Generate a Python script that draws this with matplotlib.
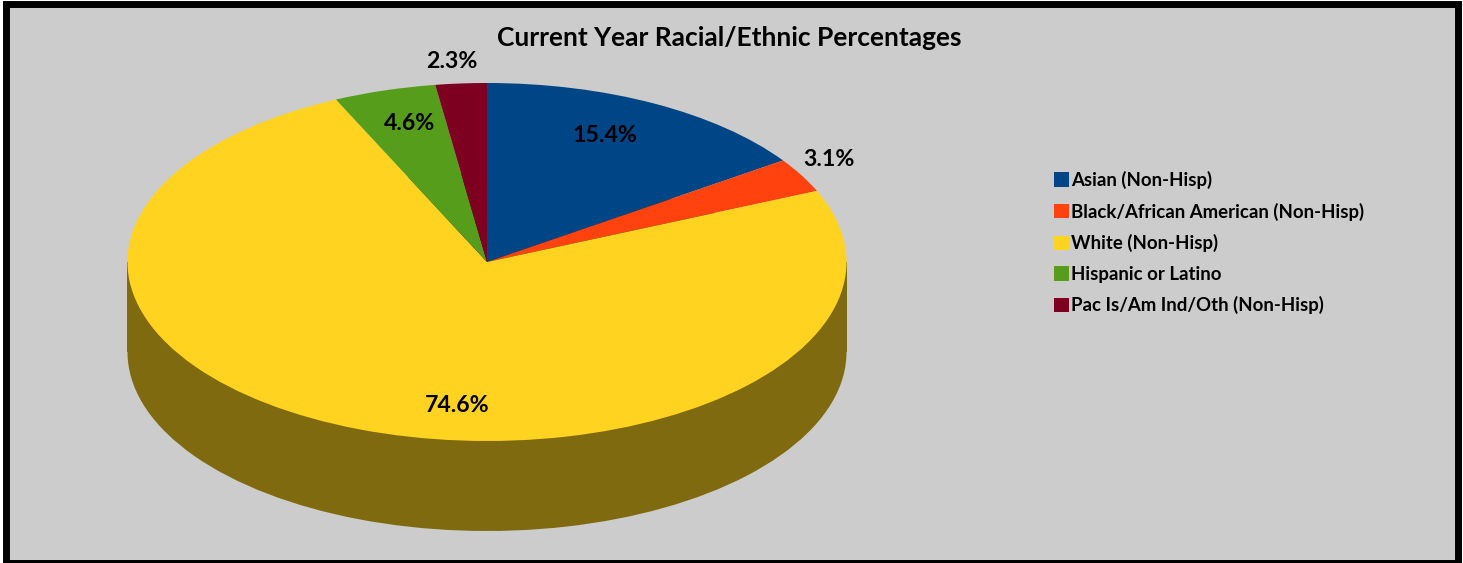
import matplotlib
matplotlib.use("Agg")
import matplotlib.pyplot as plt
from matplotlib.patches import Patch, Rectangle

W, H = 1463, 563

categories = ["Asian (Non-Hisp)", "Black/African American (Non-Hisp)", "White (Non-Hisp)",
              "Hispanic or Latino", "Pac Is/Am Ind/Oth (Non-Hisp)"]
percentages = [15.4, 3.1, 74.6, 4.6, 2.3]
colors = ["#004586", "#FF420E", "#FFD320", "#579D1C", "#7E0021"]
side_colors = ["#002343", "#802107", "#7F6A10", "#2C4F0E", "#3F0011"]
label_px = [(605, 135), (829, 160), (457, 406), (410, 123), (452, 61)]

# pie centre and radii of the tilted disc, in pixels
CX, CY, RX, RY, DEPTH = 487, 262, 359.5, 179, 90

plt.rcParams["font.family"] = ["Lato", "DejaVu Sans"]
plt.rcParams["font.weight"] = "bold"

fig = plt.figure(figsize=(W / 100, H / 100), dpi=100, facecolor="white")
ax = fig.add_axes([0, 0, 1, 1])

# side wall: same pie shifted down, with a band joining the two discs
low = -DEPTH / RY
ax.pie(percentages, colors=side_colors, startangle=90, counterclock=False, center=(0, low), radius=1,
       wedgeprops={"linewidth": 0})
ax.add_patch(Rectangle((-1, low), 2, -low, facecolor=side_colors[2], linewidth=0, zorder=1))

# top of the disc
wedges, _ = ax.pie(percentages, colors=colors, startangle=90, counterclock=False, radius=1,
                   wedgeprops={"linewidth": 0, "zorder": 3})

# pie() forces an equal aspect, the tilt comes from undoing that
ax.set_aspect("auto")
ax.set_xlim(-CX / RX, (W - CX) / RX)
ax.set_ylim((CY - H) / RY, CY / RY)
ax.set_frame_on(False)

fig.patches.append(Rectangle((5.5 / W, 1 - 562.5 / H), 1452 / W, 558.5 / H, transform=fig.transFigure,
                             facecolor="#CCCCCC", edgecolor="black", linewidth=5, zorder=-1))
ax.patch.set_visible(False)

fig.text(729 / W, 1 - 38 / H, "Current Year Racial/Ethnic Percentages", fontsize=19,
         ha="center", va="center", color="black")

for pct, (x, y) in zip(percentages, label_px):
    fig.text(x / W, 1 - y / H, f"{pct}%", fontsize=16.7, ha="center", va="center", color="black")

handles = [Patch(facecolor=c, linewidth=0) for c in colors]
fig.legend(handles, categories, loc="upper left", bbox_to_anchor=(1054 / W, 1 - 171 / H),
           frameon=False, fontsize=13.4, labelspacing=0.725, handlelength=0.82, handleheight=0.82,
           handletextpad=0.12, borderpad=0, borderaxespad=0, labelcolor="black")

fig.savefig("out.png", dpi=100)
